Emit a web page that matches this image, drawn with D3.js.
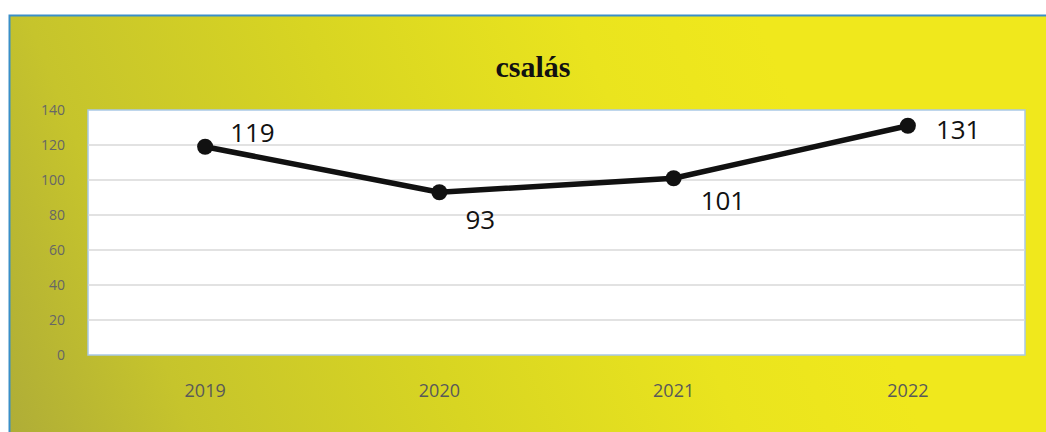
<!DOCTYPE html>
<html>
<head>
<meta charset="utf-8">
<script src="https://cdn.jsdelivr.net/npm/d3@7"></script>
<style>
  body { margin: 0; background: #fff; }
</style>
</head>
<body>
<div id="chart"></div>
<script>
const years = ["2019", "2020", "2021", "2022"]
const values = [119, 93, 101, 131]
const yTicks = [0, 20, 40, 60, 80, 100, 120, 140]
// label placement relative to the point: [dx, dy]
const labelPos = [[25, -14], [26, 28], [27, 23], [28, 4]]

const width = 1046, height = 432
const margin = { left: 88, top: 110, right: 21, bottom: 77 }
const plotW = width - margin.left - margin.right
const plotH = height - margin.top - margin.bottom

const svg = d3.select("#chart").append("svg")
  .attr("width", width).attr("height", height)

const defs = svg.append("defs")
const grad = defs.append("linearGradient")
  .attr("id", "bg").attr("gradientUnits", "userSpaceOnUse")
  .attr("x1", 9).attr("y1", 432).attr("x2", 800).attr("y2", 120)
grad.append("stop").attr("offset", "0%").attr("stop-color", "#afad37")
grad.append("stop").attr("offset", "20%").attr("stop-color", "#c6c42c")
grad.append("stop").attr("offset", "50%").attr("stop-color", "#d8d522")
grad.append("stop").attr("offset", "80%").attr("stop-color", "#eae41e")
grad.append("stop").attr("offset", "100%").attr("stop-color", "#f0e81c")

svg.append("rect")
  .attr("x", 9).attr("y", 15).attr("width", width - 9).attr("height", height - 15)
  .attr("fill", "url(#bg)")
svg.append("path")
  .attr("d", `M9.5,${height} V15.5 H${width}`)
  .attr("fill", "none").attr("stroke", "#3a8fc8").attr("stroke-width", 2)

svg.append("text")
  .attr("x", 533).attr("y", 77)
  .attr("text-anchor", "middle")
  .attr("font-family", "Liberation Serif, DejaVu Serif, serif")
  .attr("font-weight", "bold").attr("font-size", 30)
  .attr("fill", "#111")
  .text("csalás")

const g = svg.append("g").attr("transform", `translate(${margin.left},${margin.top})`)

const x = d3.scaleBand().domain(years).range([0, plotW])
const y = d3.scaleLinear().domain([0, 140]).range([plotH, 0])

g.append("rect")
  .attr("x", 0).attr("y", 0).attr("width", plotW).attr("height", plotH)
  .attr("fill", "#fff").attr("stroke", "#a9c9e6").attr("stroke-width", 1.5)

g.selectAll(".grid").data(yTicks.filter(d => d > 0 && d < 140)).join("line")
  .attr("x1", 0).attr("x2", plotW)
  .attr("y1", d => y(d)).attr("y2", d => y(d))
  .attr("stroke", "#d9d9d9").attr("stroke-width", 1.5)

const yAxis = g.append("g")
  .call(d3.axisLeft(y).tickValues(yTicks).tickSize(0).tickPadding(23))
yAxis.select(".domain").remove()
yAxis.selectAll("text")
  .attr("font-family", "Open Sans, Noto Sans, sans-serif")
  .attr("font-size", 14).attr("fill", "#666")

const xAxis = g.append("g").attr("transform", `translate(0,${plotH})`)
  .call(d3.axisBottom(x).tickSize(0).tickPadding(29))
xAxis.select(".domain").remove()
xAxis.selectAll("text")
  .attr("font-family", "Open Sans, Noto Sans, sans-serif")
  .attr("font-size", 18).attr("fill", "#595959")

const cx = d => x(d) + x.bandwidth() / 2
const pts = years.map((d, i) => [cx(d), y(values[i])])

g.append("path")
  .attr("d", d3.line()(pts))
  .attr("fill", "none").attr("stroke", "#111").attr("stroke-width", 5.5)
  .attr("stroke-linejoin", "round")

g.selectAll(".dot").data(pts).join("circle")
  .attr("cx", d => d[0]).attr("cy", d => d[1]).attr("r", 8)
  .attr("fill", "#111")

g.selectAll(".lbl").data(values).join("text")
  .attr("x", (d, i) => pts[i][0] + labelPos[i][0])
  .attr("y", (d, i) => pts[i][1] + labelPos[i][1])
  .attr("dy", "0.35em")
  .attr("font-family", "Open Sans, Noto Sans, sans-serif")
  .attr("font-size", 26).attr("fill", "#111")
  .text(d => d)
</script>
</body>
</html>
